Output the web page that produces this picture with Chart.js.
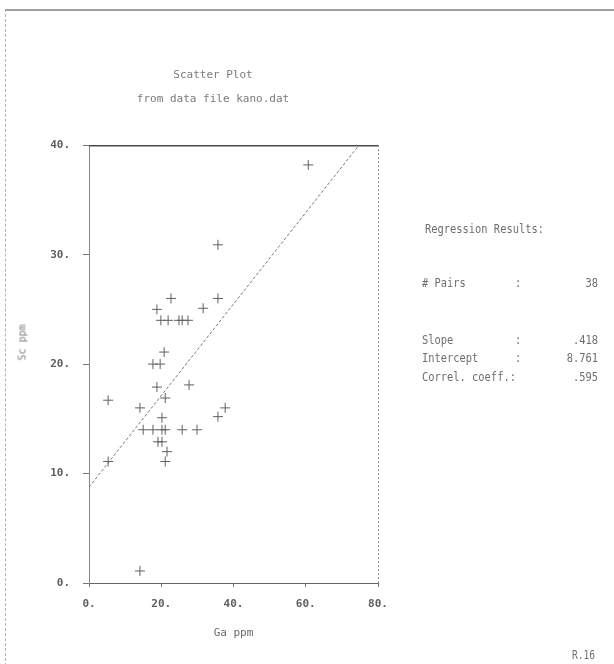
<!DOCTYPE html>
<html>
<head>
<meta charset="utf-8">
<title>Scatter Plot</title>
<script src="https://cdn.jsdelivr.net/npm/chart.js@4.4.1/dist/chart.umd.min.js"></script>
<style>
    body { margin: 0; background: #fff; }
    #page { position: relative; width: 614px; height: 664px; overflow: hidden; background: #fff; }
    #frame { position: absolute; left: 5px; top: 9px; width: 640px; height: 680px;
             border-top: 2px solid #a0a0a0; border-left: 1px dashed #b0b0b0; }
    #chartjs-0 { position: absolute; left: 0; top: 0; }
    .txt { position: absolute; font-family: "DejaVu Sans Mono", monospace; font-size: 13px;
           color: #6e6e6e; white-space: pre; line-height: 16px;
           transform: scaleX(0.8); transform-origin: left center; }
    .right { text-align: right; transform-origin: right center; }
    #ytitle { position: absolute; left: -8px; top: 337px; width: 60px; text-align: center;
              font-family: "DejaVu Sans Mono", monospace; font-size: 10px; color: #808080;
              transform: rotate(-90deg); }
</style>
</head>
<body>
<div id="page">
    <div id="frame"></div>
    <canvas id="chartjs-0" width="614" height="664"></canvas>
    <div id="ytitle">Sc ppm</div>

    <div class="txt" style="left:425px; top:221px;">Regression Results:</div>

    <div class="txt" style="left:422px; top:275px;"># Pairs</div>
    <div class="txt" style="left:515px; top:275px;">:</div>
    <div class="txt right" id="pairs" style="left:540px; top:275px; width:58px;"></div>

    <div class="txt" style="left:422px; top:332px;">Slope</div>
    <div class="txt" style="left:515px; top:332px;">:</div>
    <div class="txt right" id="slope" style="left:540px; top:332px; width:58px;"></div>

    <div class="txt" style="left:422px; top:350px;">Intercept</div>
    <div class="txt" style="left:515px; top:350px;">:</div>
    <div class="txt right" id="intercept" style="left:540px; top:350px; width:58px;"></div>

    <div class="txt" style="left:422px; top:369px;">Correl. coeff.:</div>
    <div class="txt right" id="correl" style="left:540px; top:369px; width:58px;"></div>

    <div class="txt" style="left:572px; top:647px; font-size:12px;">R.16</div>
</div>

<script>
// kano.dat : Ga ppm (x) against Sc ppm (y)
var gaPpm = [60.7, 35.7, 35.7, 31.6, 22.7, 18.8, 19.9, 21.9, 24.9, 25.8, 27.4,
             20.8, 17.7, 19.7, 18.8, 5.3, 14.1, 21.1, 37.7, 35.7, 20.2, 15.0,
             17.7, 20.2, 21.1, 25.8, 29.9, 19.1, 20.2, 21.6, 21.1, 5.3, 14.1, 27.7];
var scPpm = [38.2, 30.9, 26.0, 25.1, 26.0, 25.0, 24.0, 24.0, 24.0, 24.0, 24.0,
             21.1, 20.0, 20.0, 17.9, 16.7, 16.0, 16.9, 16.0, 15.2, 15.1, 14.0,
             14.0, 14.0, 14.0, 14.0, 14.0, 12.9, 12.9, 12.0, 11.1, 11.1, 1.1, 18.1];

var xTicks = [0, 20, 40, 60, 80];
var yTicks = [0, 10, 20, 30, 40];

// regression results
var nPairs = 38;
var slope = 0.418;
var intercept = 8.761;
var correl = 0.595;

document.getElementById("pairs").textContent = nPairs;
document.getElementById("slope").textContent = slope.toFixed(3).replace(/^0/, "");
document.getElementById("intercept").textContent = intercept.toFixed(3);
document.getElementById("correl").textContent = correl.toFixed(3).replace(/^0/, "");

var points = [];
for (let i = 0; i < gaPpm.length; i++) {
    points.push({ x: gaPpm[i], y: scPpm[i] });
}
var fitLine = [
    { x: xTicks[0], y: intercept + slope * xTicks[0] },
    { x: xTicks[xTicks.length - 1], y: intercept + slope * xTicks[xTicks.length - 1] }
];

var inkColor = "#606060";
var monoFont = { family: "DejaVu Sans Mono", size: 11, weight: "bold" };

// solid line along the top and dotted right edge of the plot box
var boxFrame = {
    id: "boxFrame",
    afterDraw: function (chart) {
        var a = chart.chartArea;
        var c = chart.ctx;
        c.save();
        c.strokeStyle = "#4a4a4a";
        c.lineWidth = 1.5;
        c.beginPath();
        c.moveTo(a.left, a.top + 0.5);
        c.lineTo(a.right, a.top + 0.5);
        c.stroke();
        c.strokeStyle = "#8a8a8a";
        c.lineWidth = 1;
        c.setLineDash([2, 2]);
        c.beginPath();
        c.moveTo(a.right + 0.5, a.top);
        c.lineTo(a.right + 0.5, a.bottom);
        c.stroke();
        c.restore();
    }
};

var ctx = document.getElementById("chartjs-0");
var myChart = new Chart(ctx, {
    type: "scatter",
    data: {
        datasets: [{
            label: "Sc ppm",
            data: points,
            pointStyle: "cross",
            pointRadius: 5,
            borderColor: inkColor,
            borderWidth: 1
        }, {
            type: "line",
            label: "fit",
            data: fitLine,
            borderColor: "#7a7a7a",
            borderWidth: 1,
            borderDash: [3, 2],
            pointRadius: 0,
            fill: false
        }]
    },
    options: {
        responsive: false,
        animation: false,
        layout: { padding: { left: 48, right: 236, top: 0, bottom: 20 } },
        plugins: {
            legend: { display: false },
            tooltip: { enabled: false },
            title: {
                display: true,
                text: ["Scatter Plot", "from data file kano.dat"],
                color: "#7a7a7a",
                font: { family: "DejaVu Sans Mono", size: 11, weight: "normal", lineHeight: 2.1 },
                padding: { top: 64, bottom: 35 }
            }
        },
        scales: {
            x: {
                type: "linear",
                min: 0,
                max: 80,
                afterBuildTicks: function (s) { s.ticks = xTicks.map(function (v) { return { value: v }; }); },
                afterFit: function (s) { s.height = 61; },
                ticks: { callback: function (v) { return v + "."; }, color: inkColor, font: monoFont, padding: 11, maxRotation: 0 },
                grid: { drawOnChartArea: false, tickLength: 4, color: "#777" },
                border: { color: "#666", dash: [2, 1] },
                title: { display: true, text: "Ga ppm", color: "#6a6a6a",
                         font: { family: "DejaVu Sans Mono", size: 11 }, padding: { top: 0, bottom: 4 } }
            },
            y: {
                type: "linear",
                min: 0,
                max: 40,
                afterBuildTicks: function (s) { s.ticks = yTicks.map(function (v) { return { value: v }; }); },
                afterFit: function (s) { s.width = 41; },
                ticks: { callback: function (v) { return v + "."; }, color: inkColor, font: monoFont, padding: 13 },
                grid: { drawOnChartArea: false, tickLength: 6, color: "#777" },
                border: { color: "#888", dash: [2, 2] }
            }
        }
    },
    plugins: [boxFrame]
});
</script>
</body>
</html>
